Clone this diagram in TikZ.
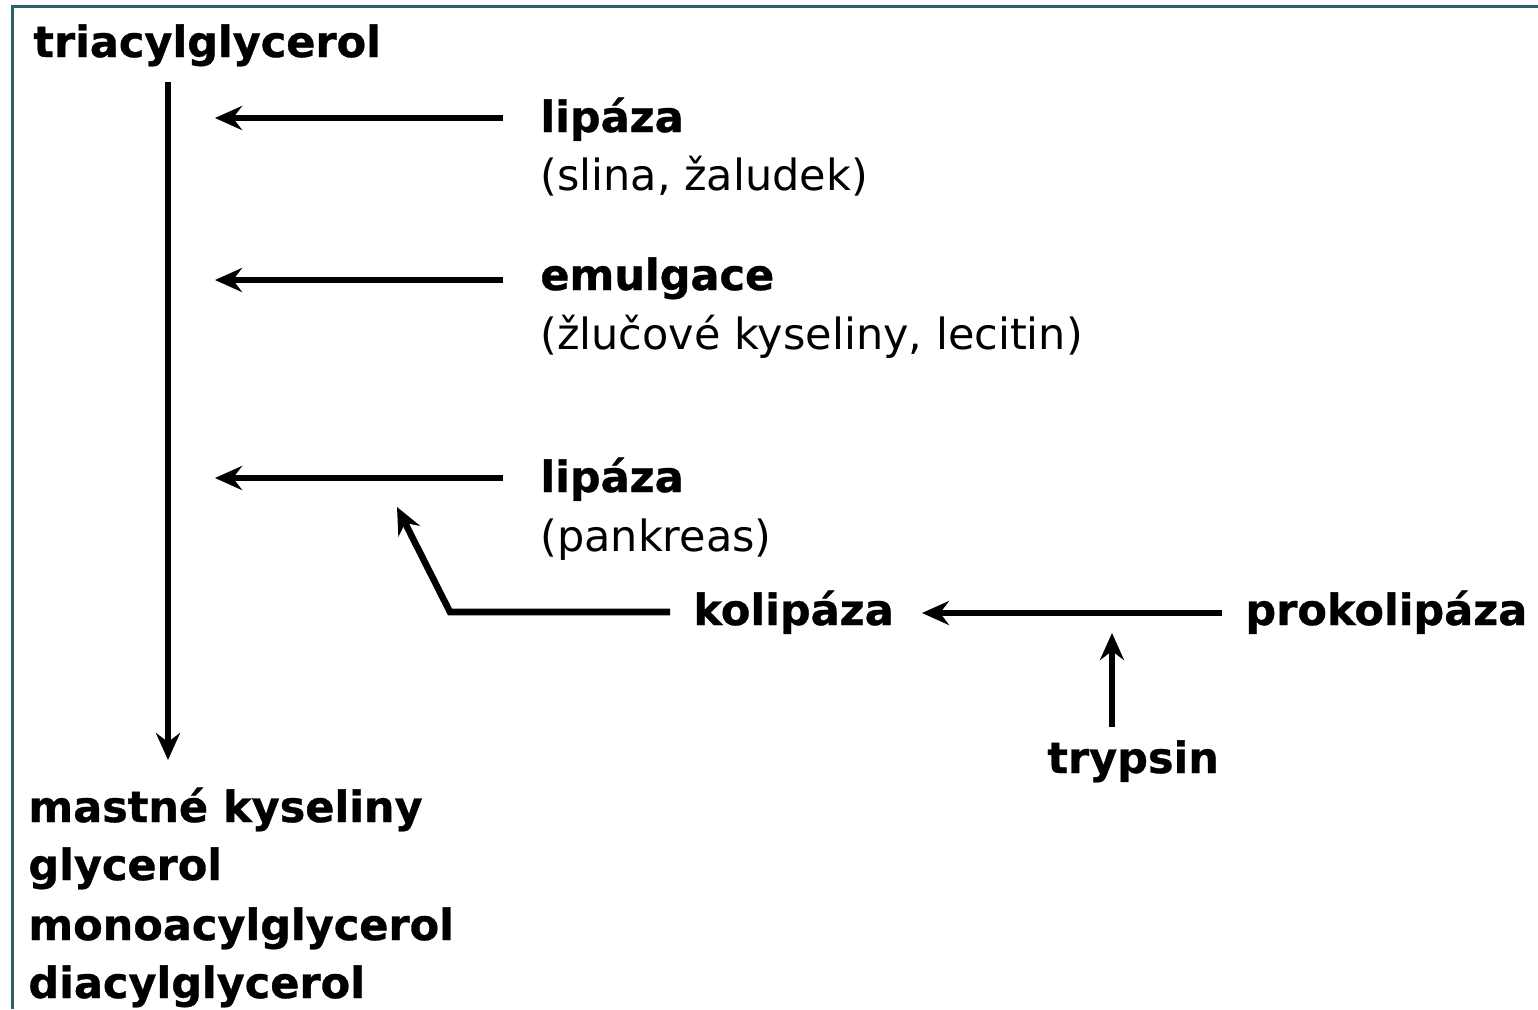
\documentclass[tikz,border=0pt]{standalone}
\usepackage{fontspec}
\setmainfont[BoldFeatures={FakeBold=0.8}]{DejaVu Sans}
\usetikzlibrary{arrows.meta}

\definecolor{ramec}{HTML}{2E5F6E}

\tikzset{
  popis/.style={inner sep=0pt, anchor=base west, font=\fontsize{21.5}{25}\selectfont},
  tucny/.style={popis, font=\fontsize{21.5}{25}\selectfont\bfseries},
  sipka/.style={line width=3.3pt, -{Stealth[length=13.5pt,width=12pt,inset=4.5pt]}}
}

\begin{document}
\begin{tikzpicture}[x=0.5pt, y=-0.5pt]

    % Frame and size
    \useasboundingbox[fill=white] (0,0) rectangle (1538,1009);
    \draw[ramec, line width=1.5pt] (12,1009) -- (12,6) -- (1538,6);

    % Substrate and products
    \node[tucny] (tag) at (33,57) {triacylglycerol};
    \node[tucny] (mk) at (28,822) {mastné kyseliny};
    \node[tucny] (gly) at (28,880) {glycerol};
    \node[tucny] (mag) at (28,940) {monoacylglycerol};
    \node[tucny] (dag) at (28,998) {diacylglycerol};

    \coordinate (osahore) at (168,82);
    \coordinate (osadole) at (168,760);
    \draw[sipka] (osahore) -- (osadole);

    % Lipase (saliva, stomach)
    \node[tucny] (lipaza1) at (540,132) {lipáza};
    \node[popis] (slina) at (540,190) {(slina, žaludek)};
    \coordinate (c1) at (503,118);
    \coordinate (k1) at (215,118);
    \draw[sipka] (c1) -- (k1);

    % Emulsification
    \node[tucny] (emulgace) at (540,290) {emulgace};
    \node[popis] (zluc) at (540,349) {(žlučové kyseliny, lecitin)};
    \coordinate (c2) at (503,280);
    \coordinate (k2) at (215,280);
    \draw[sipka] (c2) -- (k2);

    % Pancreatic lipase
    \node[tucny] (lipaza2) at (540,492) {lipáza};
    \node[popis] (pankreas) at (540,551) {(pankreas)};
    \coordinate (c3) at (503,478);
    \coordinate (k3) at (215,478);
    \draw[sipka] (c3) -- (k3);

    % Colipase activation
    \node[tucny] (kolipaza) at (693,625) {kolipáza};
    \node[tucny] (prokolipaza) at (1245,625) {prokolipáza};
    \node[tucny] (trypsin) at (1047,773) {trypsin};

    \coordinate (kz) at (670,612);
    \coordinate (kohyb) at (450,612);
    \coordinate (kk) at (397,507);
    \draw[sipka, line join=miter] (kz) -- (kohyb) -- (kk);

    \coordinate (pz) at (1222,613);
    \coordinate (pk) at (922,613);
    \draw[sipka] (pz) -- (pk);

    \coordinate (tz) at (1112,727);
    \coordinate (tk) at (1112,633);
    \draw[sipka] (tz) -- (tk);

\end{tikzpicture}
\end{document}
